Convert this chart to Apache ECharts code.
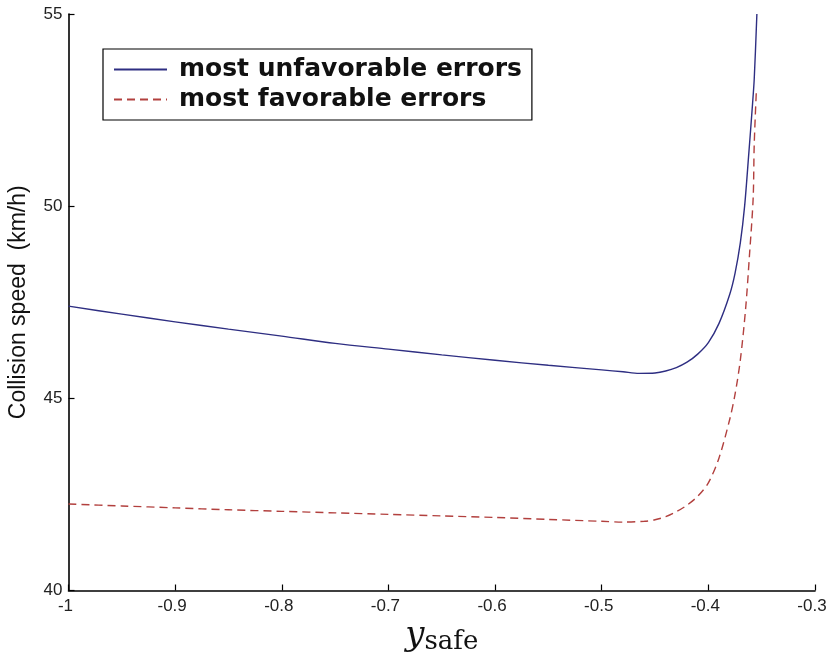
<!DOCTYPE html>
<html>
<head>
<meta charset="utf-8">
<script src="https://cdn.jsdelivr.net/npm/echarts@6/dist/echarts.min.js"></script>
<style>
  html, body { margin: 0; padding: 0; background: #fff; }
  #chart { width: 828px; height: 655px; }
</style>
</head>
<body>
<div id="chart"></div>
<script>
// Collision speed against the safety offset y_safe, for two error assumptions.
var seriesNames = ['most unfavorable errors', 'most favorable errors'];

var unfavX = [-1, -0.95, -0.9, -0.85, -0.8, -0.75, -0.7, -0.65, -0.6, -0.55, -0.5, -0.48, -0.465, -0.45,
  -0.44, -0.43, -0.42, -0.41, -0.40, -0.39, -0.38, -0.375, -0.37, -0.366, -0.362, -0.359, -0.357, -0.3545];
var unfavY = [47.40, 47.19, 46.99, 46.80, 46.62, 46.43, 46.28, 46.13, 45.99, 45.86, 45.74, 45.69, 45.65, 45.66,
  45.71, 45.80, 45.94, 46.15, 46.45, 46.95, 47.70, 48.25, 49.05, 50.00, 51.40, 52.50, 53.30, 55.00];

var favX = [-1, -0.95, -0.9, -0.85, -0.8, -0.75, -0.7, -0.65, -0.6, -0.55, -0.5, -0.48, -0.46, -0.45,
  -0.44, -0.43, -0.42, -0.41, -0.40, -0.39, -0.38, -0.375, -0.37, -0.365, -0.3615, -0.358, -0.357, -0.355];
var favY = [42.25, 42.20, 42.15, 42.10, 42.06, 42.02, 41.98, 41.94, 41.90, 41.85, 41.80, 41.78, 41.80, 41.84,
  41.92, 42.05, 42.22, 42.45, 42.80, 43.45, 44.45, 45.10, 46.00, 47.35, 48.70, 50.20, 51.60, 53.00];

var xTicks = { min: -1, max: -0.3, step: 0.1 };
var yTicks = { min: 40, max: 55, step: 5 };

function pairs(xs, ys) {
  return xs.map(function (x, i) { return [x, ys[i]]; });
}

var chart = echarts.init(document.getElementById('chart'), null, { renderer: 'canvas' });

var tickFont = { fontFamily: 'Liberation Sans, Arial, sans-serif', fontSize: 17, color: '#222' };

chart.setOption({
  backgroundColor: '#ffffff',
  animation: false,
  grid: { left: 68.5, right: 13, top: 14, bottom: 64.5, containLabel: false, outerBoundsMode: 'none' },
  legend: {
    orient: 'vertical',
    left: 103,
    top: 49,
    padding: [8, 10, 8, 10],
    itemGap: 5,
    itemWidth: 53,
    itemHeight: 28,
    borderColor: '#000',
    borderWidth: 1.2,
    backgroundColor: '#fff',
    itemStyle: { opacity: 0 },
    textStyle: {
      fontFamily: 'DejaVu Sans, sans-serif', fontWeight: 'bold', fontSize: 25, color: '#111',
      padding: [0, 0, 0, 7]
    },
    data: seriesNames
  },
  xAxis: {
    type: 'value',
    min: xTicks.min,
    max: xTicks.max,
    interval: xTicks.step,
    name: '{y|y}{s|safe}',
    nameLocation: 'middle',
    nameGap: 27,
    nameTextStyle: {
      rich: {
        y: { fontFamily: 'DejaVu Serif, serif', fontStyle: 'italic', fontSize: 34, color: '#111' },
        s: { fontFamily: 'DejaVu Serif, serif', fontSize: 26, color: '#111', padding: [12, 0, 0, 0] }
      }
    },
    axisLine: { show: true, onZero: false, lineStyle: { color: '#000', width: 1.6 } },
    axisTick: { show: true, inside: true, length: 6, lineStyle: { color: '#000', width: 1.2 } },
    splitLine: { show: false },
    axisLabel: Object.assign({
      margin: 7,
      padding: [0, 6, 0, 0],
      formatter: function (v) { return String(+v.toFixed(1)); }
    }, tickFont)
  },
  yAxis: {
    type: 'value',
    min: yTicks.min,
    max: yTicks.max,
    interval: yTicks.step,
    name: 'Collision speed  (km/h)',
    nameLocation: 'middle',
    nameRotate: 90,
    nameGap: 38,
    nameTextStyle: { fontFamily: 'Liberation Sans, Arial, sans-serif', fontSize: 23, color: '#111' },
    axisLine: { show: true, onZero: false, lineStyle: { color: '#000', width: 1.6 } },
    axisTick: { show: true, inside: true, length: 6, lineStyle: { color: '#000', width: 1.2 } },
    splitLine: { show: false },
    axisLabel: Object.assign({ margin: 6 }, tickFont)
  },
  series: [
    {
      name: seriesNames[0],
      type: 'line',
      data: pairs(unfavX, unfavY),
      smooth: 0.3,
      symbol: 'none',
      lineStyle: { color: '#2e2e82', width: 1.4 },
      itemStyle: { color: '#2e2e82' }
    },
    {
      name: seriesNames[1],
      type: 'line',
      data: pairs(favX, favY),
      smooth: 0.3,
      symbol: 'none',
      lineStyle: { color: '#b2403e', width: 1.4, type: [8, 5] },
      itemStyle: { color: '#b2403e' }
    }
  ]
});
</script>
</body>
</html>
